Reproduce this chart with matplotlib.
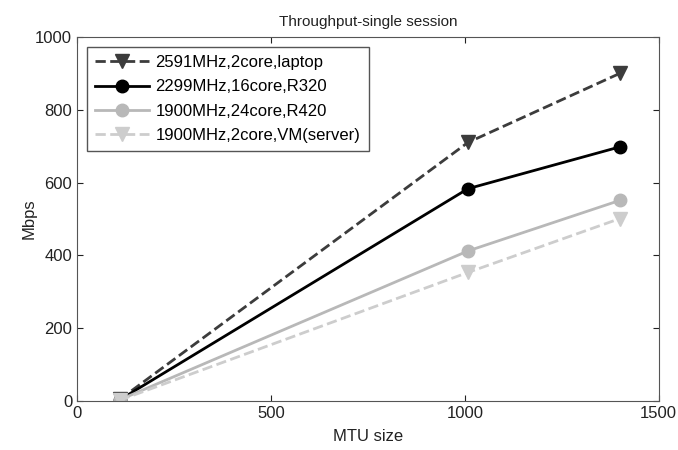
import matplotlib.pyplot as plt

# MTU sizes (x) and throughput in Mbps per machine
mtu = [110, 1008, 1400]
laptop = [4, 710, 900]
r320 = [3, 583, 698]
r420 = [3, 412, 551]
vm_server = [2, 353, 501]

labels = ['2591MHz,2core,laptop', '2299MHz,16core,R320',
          '1900MHz,24core,R420', '1900MHz,2core,VM(server)']

plt.rcParams['font.family'] = ['Liberation Sans', 'DejaVu Sans']

fig = plt.figure(figsize=(6.78, 4.5), dpi=100)
ax = fig.add_axes([0.1136, 0.109, 0.858, 0.809])

ax.plot(mtu, laptop, '--v', color='#3c3c3c', linewidth=2, markersize=10, label=labels[0])
ax.plot(mtu, r320, '-o', color='black', linewidth=2, markersize=9, label=labels[1])
ax.plot(mtu, r420, '-o', color='#b8b8b8', linewidth=2, markersize=9, label=labels[2])
ax.plot(mtu, vm_server, '--v', color='#cdcdcd', linewidth=2, markersize=10, label=labels[3])

ax.set_xlim(0, 1500)
ax.set_ylim(0, 1000)
ax.set_xticks([0, 500, 1000, 1500])
ax.set_yticks([0, 200, 400, 600, 800, 1000])
ax.tick_params(direction='in', top=True, right=True, labelsize=12, colors='#222222', length=4)
for s in ax.spines.values():
    s.set_color('#555555')

ax.set_title('Throughput-single session', fontsize=11, color='#222222', pad=8)
ax.set_xlabel('MTU size', fontsize=12, color='#222222', labelpad=6)
ax.set_ylabel('Mbps', fontsize=12, color='#222222', labelpad=-1)

leg = ax.legend(loc='upper left', fontsize=12, fancybox=False, framealpha=1,
                edgecolor='#555555', handlelength=3.2, borderaxespad=0.6,
                labelspacing=0.55, handletextpad=0.4, borderpad=0.5)
leg.get_frame().set_linewidth(1)

fig.savefig('out.png', dpi=100)
